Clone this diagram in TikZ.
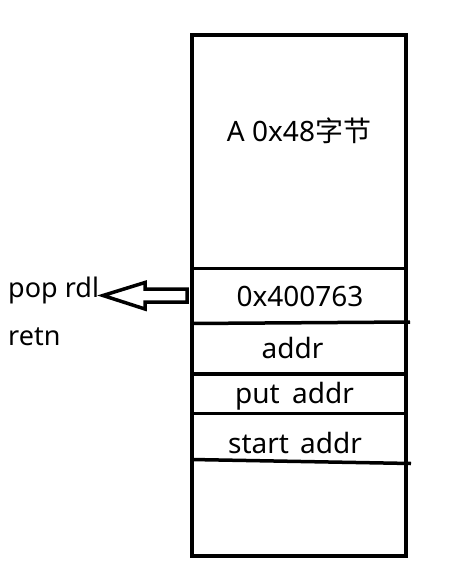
\documentclass[tikz,border=0pt]{standalone}
\usepackage{fontspec}
\setmainfont{Noto Sans}
\newfontfamily\cjk{Noto Sans CJK SC}
\usetikzlibrary{calc}
\tikzset{
  frame/.style={draw=black, line width=4pt},
  sep/.style={draw=black, line width=3.5pt},
  lbl/.style={anchor=base, inner sep=0pt, font=\fontsize{28}{32}\selectfont},
  side/.style={lbl, anchor=base west, font=\fontsize{27}{32}\selectfont},
  hollow/.style={draw=black, fill=white, line width=3.5pt, line join=miter},
}
\begin{document}
\begin{tikzpicture}[x=1pt,y=-1pt]
\useasboundingbox (0,0) rectangle (458,578);
% stack frame
\draw[frame] (191.5,35) rectangle (406,555.5);
\draw[sep] (191.5,268.5) -- (406,268.5);
\draw[sep] (191.5,323.5) -- (410,322);
\draw[sep] (191.5,374) -- (406,374);
\draw[sep] (191.5,413.5) -- (406,413.5);
\draw[sep] (191.5,459.5) -- (411,463.5);
% cell labels
\node[lbl] (buf) at (299,141) {A 0x48{\cjk 字节}};
\node[lbl] (gad) at (300,306.5) {0x400763};
\node[lbl] (adr) at (292.5,358) {addr};
\node[lbl] (put) at (294.5,403) {put\hspace{0.45em}addr};
\node[lbl] (st) at (295,453) {start\hspace{0.4em}addr};
% gadget text
\node[side] (pop) at (8,297) {pop rdl};
\node[side] (ret) at (8,345) {retn};
% hollow arrow
\coordinate (from) at (187,295.5);
\coordinate (tip) at (103,295.5);
\draw[hollow] (from) ++(0,-6.5) -- ++(-42,0) -- ++(0,-6.5) -- (tip) -- ++(42,13.5) -- ++(0,-7) -- ++(42,0) -- cycle;
\end{tikzpicture}
\end{document}
